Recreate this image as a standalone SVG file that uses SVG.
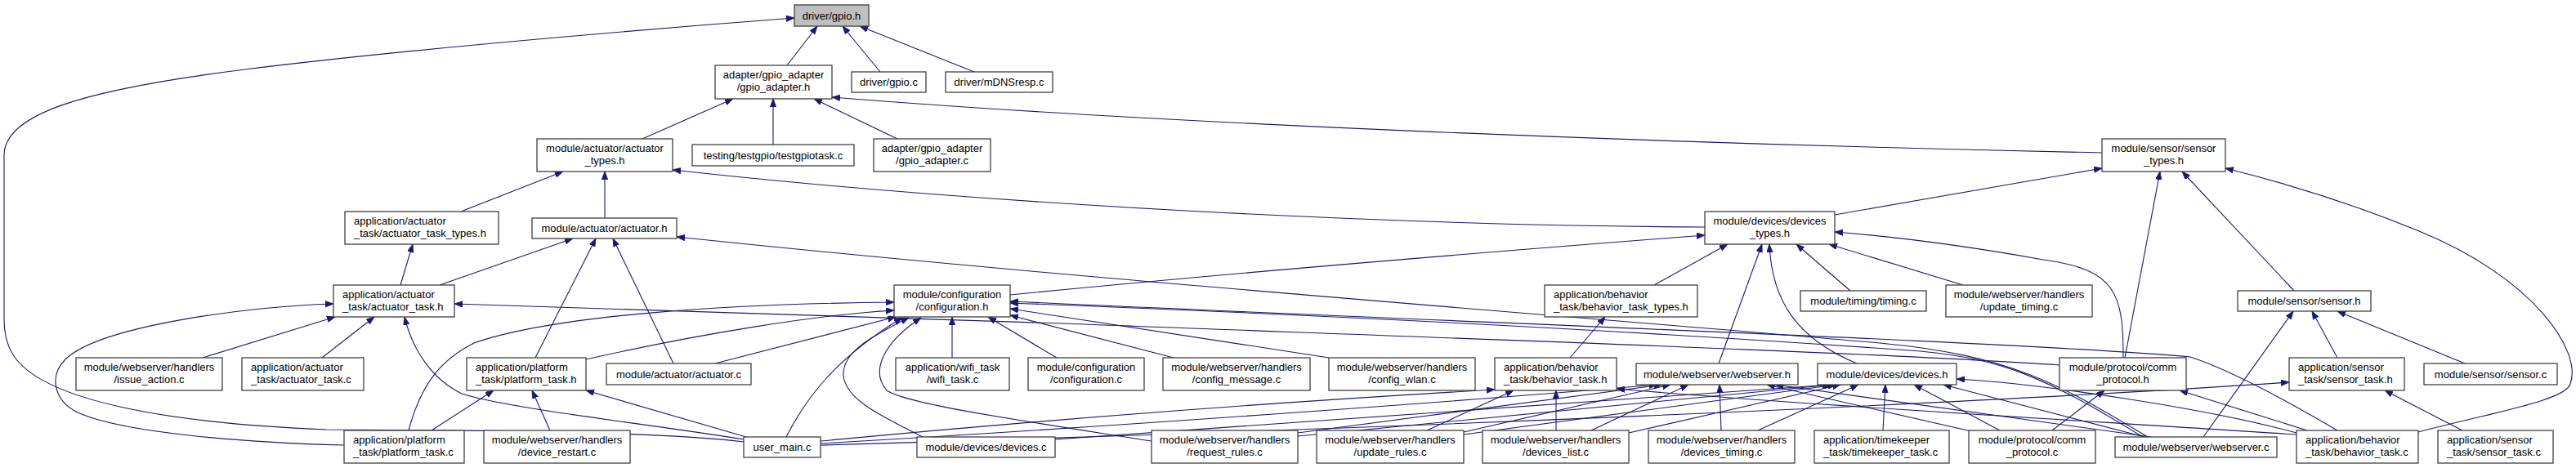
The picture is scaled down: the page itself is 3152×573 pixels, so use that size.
<svg xmlns="http://www.w3.org/2000/svg" width="3152" height="573" viewBox="0 0 3152 573">
<style>
.n rect{fill:#fff;stroke:#404040;stroke-width:1.3}
.n.root rect{fill:#bfbfbf}
.n text{font-family:"Liberation Sans",Arial,Helvetica,sans-serif;font-size:13px;fill:#000}
.c{text-anchor:middle}
.l{text-anchor:start}
.e path{fill:none;stroke:#191970;stroke-width:1.1;marker-end:url(#ah)}
</style>
<defs>
<marker id="ah" markerUnits="userSpaceOnUse" markerWidth="11" markerHeight="8" refX="10" refY="3.75" orient="auto">
<path d="M0,0 L10,3.75 L0,7.5 Z" fill="#191970" stroke="#191970" stroke-width="0.8"/>
</marker>
</defs>
<rect width="3152" height="573" fill="#fff"/>
<g id="edges" class="e">
<path d="M963,80 L1000,32"/>
<path d="M1077,88 L1031,32"/>
<path d="M1192,88 L1052,32"/>
<path d="M910,541 C800,528 600,527 400,526 C200,518 60,490 20,440 C8,425 5,405 5,390 L5,190 C5,140 100,110 300,85 C500,60 800,35 972,22"/>
<path d="M786,170 L897,121"/>
<path d="M946,177 L946,121"/>
<path d="M1098,170 L996,121"/>
<path d="M2572,187 C2000,175 1400,150 1018,119"/>
<path d="M564,259 L689,210"/>
<path d="M740,267 L740,210"/>
<path d="M2086,278 C1700,276 1200,250 823,208"/>
<path d="M2245,263 L2572,206"/>
<path d="M2600,438 L2643,210"/>
<path d="M2807,356 L2670,210"/>
<path d="M2959,529 C3050,505 3140,490 3145,470 C3160,430 3100,340 2960,283 C2880,250 2800,225 2723,206"/>
<path d="M490,349 L505,299"/>
<path d="M538,349 L701,292"/>
<path d="M655,438 L729,292"/>
<path d="M824,445 L750,292"/>
<path d="M2628,535 C2520,470 2460,435 2300,420 C1900,385 1300,340 828,290"/>
<path d="M1236,361 C1500,335 1800,310 2086,288"/>
<path d="M2024,349 L2114,299"/>
<path d="M2103,445 L2156,299"/>
<path d="M2272,445 C2200,415 2168,370 2165,299"/>
<path d="M2264,356 L2198,299"/>
<path d="M2402,349 L2238,299"/>
<path d="M2598,438 C2598,360 2590,330 2500,318 C2400,300 2320,290 2245,284"/>
<path d="M1921,438 L1964,388"/>
<path d="M2860,438 L2829,381"/>
<path d="M3016,445 L2860,381"/>
<path d="M2696,535 L2806,381"/>
<path d="M3013,527 L2918,478"/>
<path d="M248,438 L410,388"/>
<path d="M394,438 L458,388"/>
<path d="M421,545 C300,542 150,530 95,505 C65,490 60,460 80,440 C120,400 300,375 408,372"/>
<path d="M910,538 C800,520 620,500 565,482 C530,465 505,430 495,388"/>
<path d="M528,527 L604,478"/>
<path d="M673,527 L651,478"/>
<path d="M913,535 L717,478"/>
<path d="M500,527 C515,470 540,440 580,420 C680,385 900,372 1094,370"/>
<path d="M717,440 C850,410 1000,385 1094,380"/>
<path d="M2520,447 C2300,432 1800,415 1300,396 C1000,386 700,378 556,372"/>
<path d="M875,445 L1096,388"/>
<path d="M962,535 C985,490 1020,440 1104,389"/>
<path d="M1129,535 C1080,510 1035,490 1032,460 C1030,430 1070,410 1112,389"/>
<path d="M1409,540 C1250,515 1110,495 1085,478 C1065,455 1080,420 1127,389"/>
<path d="M1165,438 L1165,388"/>
<path d="M1293,438 L1209,388"/>
<path d="M1436,438 L1236,386"/>
<path d="M1626,438 L1236,378"/>
<path d="M2622,535 C2500,460 2450,440 2350,430 C2000,405 1600,385 1236,371"/>
<path d="M2860,527 C2780,480 2720,450 2680,437 C2500,420 1800,395 1236,369"/>
<path d="M2106,527 L2104,471"/>
<path d="M1947,527 L2066,471"/>
<path d="M1791,529 L2044,471"/>
<path d="M1588,530 L2034,471"/>
<path d="M1004,543 C1400,520 1800,490 2028,471"/>
<path d="M2412,528 L2162,471"/>
<path d="M2632,535 L2172,471"/>
<path d="M2151,527 L2274,471"/>
<path d="M2304,527 L2307,471"/>
<path d="M2447,527 L2342,471"/>
<path d="M1993,530 L2252,471"/>
<path d="M1791,532 L2247,471"/>
<path d="M1588,534 L2242,471"/>
<path d="M1291,538 C1700,510 2050,485 2240,471"/>
<path d="M2624,535 L2378,471"/>
<path d="M2810,530 C2700,500 2500,470 2394,464"/>
<path d="M1904,527 L1904,478"/>
<path d="M1746,527 L1852,478"/>
<path d="M1004,540 C1300,512 1600,490 1829,477"/>
<path d="M2810,532 C2500,512 2200,495 1978,476"/>
<path d="M2511,527 L2575,478"/>
<path d="M2823,527 L2667,478"/>
<path d="M1004,545 C1700,525 2400,495 2801,468"/>
</g>
<g id="n_gpio_h" class="n root"><rect x="972" y="6" width="91" height="26"/><text class="c" x="1017.5" y="23.5">driver/gpio.h</text></g>
<g id="n_gpio_adapter_h" class="n"><rect x="875" y="80" width="143" height="41"/><text class="c" x="946.5" y="95.5">adapter/gpio_adapter</text><text class="c" x="946.5" y="110.5">/gpio_adapter.h</text></g>
<g id="n_gpio_c" class="n"><rect x="1042" y="88" width="91" height="25"/><text class="c" x="1087.5" y="105">driver/gpio.c</text></g>
<g id="n_mdnsresp_c" class="n"><rect x="1157" y="88" width="131" height="25"/><text class="c" x="1222.5" y="105">driver/mDNSresp.c</text></g>
<g id="n_actuator_types_h" class="n"><rect x="657" y="170" width="166" height="40"/><text class="c" x="740" y="185.5">module/actuator/actuator</text><text class="c" x="740" y="200.5">_types.h</text></g>
<g id="n_testgpiotask_c" class="n"><rect x="847" y="177" width="198" height="26"/><text class="c" x="946" y="194.5">testing/testgpio/testgpiotask.c</text></g>
<g id="n_gpio_adapter_c" class="n"><rect x="1069" y="170" width="143" height="40"/><text class="c" x="1140.5" y="185.5">adapter/gpio_adapter</text><text class="c" x="1140.5" y="200.5">/gpio_adapter.c</text></g>
<g id="n_sensor_types_h" class="n"><rect x="2572" y="170" width="151" height="40"/><text class="c" x="2647.5" y="185.5">module/sensor/sensor</text><text class="c" x="2647.5" y="200.5">_types.h</text></g>
<g id="n_actuator_task_types_h" class="n"><rect x="422" y="259" width="188" height="40"/><text class="l" x="433" y="274.5">application/actuator</text><text class="l" x="433" y="289.5">_task/actuator_task_types.h</text></g>
<g id="n_actuator_h" class="n"><rect x="651" y="267" width="177" height="25"/><text class="c" x="739.5" y="284">module/actuator/actuator.h</text></g>
<g id="n_devices_types_h" class="n"><rect x="2086" y="259" width="159" height="40"/><text class="c" x="2165.5" y="274.5">module/devices/devices</text><text class="c" x="2165.5" y="289.5">_types.h</text></g>
<g id="n_actuator_task_h" class="n"><rect x="408" y="349" width="148" height="39"/><text class="l" x="419" y="364.5">application/actuator</text><text class="l" x="419" y="379.5">_task/actuator_task.h</text></g>
<g id="n_configuration_h" class="n"><rect x="1094" y="349" width="142" height="39"/><text class="c" x="1165" y="364.5">module/configuration</text><text class="c" x="1165" y="379.5">/configuration.h</text></g>
<g id="n_behavior_task_types_h" class="n"><rect x="1890" y="349" width="187" height="39"/><text class="l" x="1901" y="364.5">application/behavior</text><text class="l" x="1901" y="379.5">_task/behavior_task_types.h</text></g>
<g id="n_timing_c" class="n"><rect x="2203" y="356" width="154" height="25"/><text class="c" x="2280" y="373">module/timing/timing.c</text></g>
<g id="n_update_timing_c" class="n"><rect x="2381" y="349" width="179" height="39"/><text class="c" x="2470.5" y="364.5">module/webserver/handlers</text><text class="c" x="2470.5" y="379.5">/update_timing.c</text></g>
<g id="n_sensor_h" class="n"><rect x="2738" y="356" width="163" height="25"/><text class="c" x="2819.5" y="373">module/sensor/sensor.h</text></g>
<g id="n_issue_action_c" class="n"><rect x="93" y="438" width="179" height="40"/><text class="c" x="182.5" y="453.5">module/webserver/handlers</text><text class="c" x="182.5" y="468.5">/issue_action.c</text></g>
<g id="n_actuator_task_c" class="n"><rect x="296" y="438" width="149" height="40"/><text class="l" x="307" y="453.5">application/actuator</text><text class="l" x="307" y="468.5">_task/actuator_task.c</text></g>
<g id="n_platform_task_h" class="n"><rect x="571" y="438" width="146" height="40"/><text class="l" x="582" y="453.5">application/platform</text><text class="l" x="582" y="468.5">_task/platform_task.h</text></g>
<g id="n_actuator_c" class="n"><rect x="742" y="445" width="177" height="26"/><text class="c" x="830.5" y="462.5">module/actuator/actuator.c</text></g>
<g id="n_wifi_task_c" class="n"><rect x="1096" y="438" width="139" height="40"/><text class="c" x="1165.5" y="453.5">application/wifi_task</text><text class="c" x="1165.5" y="468.5">/wifi_task.c</text></g>
<g id="n_configuration_c" class="n"><rect x="1258" y="438" width="142" height="40"/><text class="c" x="1329" y="453.5">module/configuration</text><text class="c" x="1329" y="468.5">/configuration.c</text></g>
<g id="n_config_message_c" class="n"><rect x="1423" y="438" width="180" height="40"/><text class="c" x="1513" y="453.5">module/webserver/handlers</text><text class="c" x="1513" y="468.5">/config_message.c</text></g>
<g id="n_config_wlan_c" class="n"><rect x="1626" y="438" width="179" height="40"/><text class="c" x="1715.5" y="453.5">module/webserver/handlers</text><text class="c" x="1715.5" y="468.5">/config_wlan.c</text></g>
<g id="n_behavior_task_h" class="n"><rect x="1829" y="438" width="149" height="40"/><text class="l" x="1840" y="453.5">application/behavior</text><text class="l" x="1840" y="468.5">_task/behavior_task.h</text></g>
<g id="n_webserver_h" class="n"><rect x="2002" y="445" width="198" height="26"/><text class="c" x="2101" y="462.5">module/webserver/webserver.h</text></g>
<g id="n_devices_h" class="n"><rect x="2224" y="445" width="170" height="26"/><text class="c" x="2309" y="462.5">module/devices/devices.h</text></g>
<g id="n_comm_protocol_h" class="n"><rect x="2520" y="438" width="155" height="40"/><text class="c" x="2597.5" y="453.5">module/protocol/comm</text><text class="c" x="2597.5" y="468.5">_protocol.h</text></g>
<g id="n_sensor_task_h" class="n"><rect x="2801" y="438" width="141" height="40"/><text class="l" x="2812" y="453.5">application/sensor</text><text class="l" x="2812" y="468.5">_task/sensor_task.h</text></g>
<g id="n_sensor_c" class="n"><rect x="2966" y="445" width="163" height="26"/><text class="c" x="3047.5" y="462.5">module/sensor/sensor.c</text></g>
<g id="n_platform_task_c" class="n"><rect x="421" y="527" width="147" height="40"/><text class="l" x="432" y="542.5">application/platform</text><text class="l" x="432" y="557.5">_task/platform_task.c</text></g>
<g id="n_device_restart_c" class="n"><rect x="592" y="527" width="179" height="40"/><text class="c" x="681.5" y="542.5">module/webserver/handlers</text><text class="c" x="681.5" y="557.5">/device_restart.c</text></g>
<g id="n_user_main_c" class="n"><rect x="910" y="535" width="94" height="25"/><text class="c" x="957" y="552">user_main.c</text></g>
<g id="n_devices_c" class="n"><rect x="1122" y="535" width="169" height="25"/><text class="c" x="1206.5" y="552">module/devices/devices.c</text></g>
<g id="n_request_rules_c" class="n"><rect x="1409" y="527" width="179" height="40"/><text class="c" x="1498.5" y="542.5">module/webserver/handlers</text><text class="c" x="1498.5" y="557.5">/request_rules.c</text></g>
<g id="n_update_rules_c" class="n"><rect x="1611" y="527" width="180" height="40"/><text class="c" x="1701" y="542.5">module/webserver/handlers</text><text class="c" x="1701" y="557.5">/update_rules.c</text></g>
<g id="n_devices_list_c" class="n"><rect x="1814" y="527" width="179" height="40"/><text class="c" x="1903.5" y="542.5">module/webserver/handlers</text><text class="c" x="1903.5" y="557.5">/devices_list.c</text></g>
<g id="n_devices_timing_c" class="n"><rect x="2017" y="527" width="179" height="40"/><text class="c" x="2106.5" y="542.5">module/webserver/handlers</text><text class="c" x="2106.5" y="557.5">/devices_timing.c</text></g>
<g id="n_timekeeper_task_c" class="n"><rect x="2220" y="527" width="165" height="40"/><text class="l" x="2231" y="542.5">application/timekeeper</text><text class="l" x="2231" y="557.5">_task/timekeeper_task.c</text></g>
<g id="n_comm_protocol_c" class="n"><rect x="2409" y="527" width="155" height="40"/><text class="c" x="2486.5" y="542.5">module/protocol/comm</text><text class="c" x="2486.5" y="557.5">_protocol.c</text></g>
<g id="n_webserver_c" class="n"><rect x="2588" y="535" width="198" height="25"/><text class="c" x="2687" y="552">module/webserver/webserver.c</text></g>
<g id="n_behavior_task_c" class="n"><rect x="2810" y="527" width="149" height="40"/><text class="l" x="2821" y="542.5">application/behavior</text><text class="l" x="2821" y="557.5">_task/behavior_task.c</text></g>
<g id="n_sensor_task_c" class="n"><rect x="2983" y="527" width="141" height="40"/><text class="l" x="2994" y="542.5">application/sensor</text><text class="l" x="2994" y="557.5">_task/sensor_task.c</text></g>
</svg>
